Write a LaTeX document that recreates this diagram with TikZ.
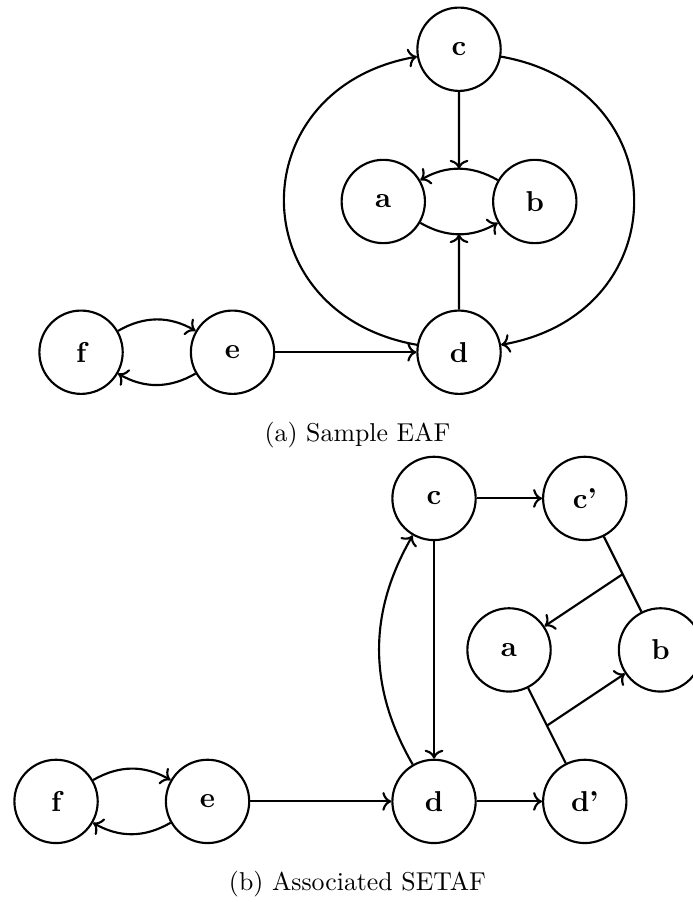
\documentclass[tikz,border=0pt]{standalone}
\usetikzlibrary{arrows.meta}

\begin{document}
\begin{tikzpicture}[
    arg/.style={circle,draw,thick,minimum size=1.1cm,inner sep=0pt,
      font=\fontsize{10.8}{13}\selectfont\bfseries},
    att/.style={->,thick},
    capt/.style={font=\fontsize{9.7}{12}\selectfont}]
  \useasboundingbox (0,0) rectangle (9.148,-11.908);

  % (a) sample EAF
  \node[arg] (c1) at (6.06,-0.65) {c};
  \node[arg] (a1) at (5.06,-2.66) {a};
  \node[arg] (b1) at (7.06,-2.66) {b};
  \node[arg] (d1) at (6.06,-4.65) {d};
  \node[arg] (e1) at (3.07,-4.65) {e};
  \node[arg] (f1) at (1.07,-4.65) {f};

  \draw[att] (b1) to[bend right=30] coordinate (ba1) (a1);
  \draw[att] (a1) to[bend right=30] coordinate (ab1) (b1);
  \draw[att] (c1) -- (ba1);
  \draw[att] (d1) -- (ab1);
  \draw[att] (c1) to[bend left=80,looseness=1.6] (d1);
  \draw[att] (d1) to[bend left=80,looseness=1.6] (c1);
  \draw[att] (e1) -- (d1);
  \draw[att] (f1) to[bend left=30] (e1);
  \draw[att] (e1) to[bend left=30] (f1);
  \node[capt] (capa) at (4.72,-5.74) {(a) Sample EAF};

  % (b) associated SETAF
  \node[arg] (c2) at (5.73,-6.58) {c};
  \node[arg] (cp2) at (7.72,-6.58) {c'};
  \node[arg] (a2) at (6.72,-8.58) {a};
  \node[arg] (b2) at (8.72,-8.58) {b};
  \node[arg] (d2) at (5.73,-10.58) {d};
  \node[arg] (dp2) at (7.72,-10.58) {d'};
  \node[arg] (e2) at (2.74,-10.58) {e};
  \node[arg] (f2) at (0.74,-10.58) {f};

  \draw[att] (c2) -- (cp2);
  \draw[att] (d2) -- (dp2);
  \draw[att] (c2) -- (d2);
  \draw[att] (d2) to[bend left=30] (c2);
  \draw[thick] (cp2) -- coordinate (cpb2) (b2);
  \draw[att] (cpb2) -- (a2);
  \draw[thick] (a2) -- coordinate (adp2) (dp2);
  \draw[att] (adp2) -- (b2);
  \draw[att] (e2) -- (d2);
  \draw[att] (f2) to[bend left=30] (e2);
  \draw[att] (e2) to[bend left=30] (f2);
  \node[capt] (capb) at (4.72,-11.67) {(b) Associated SETAF};
\end{tikzpicture}
\end{document}
